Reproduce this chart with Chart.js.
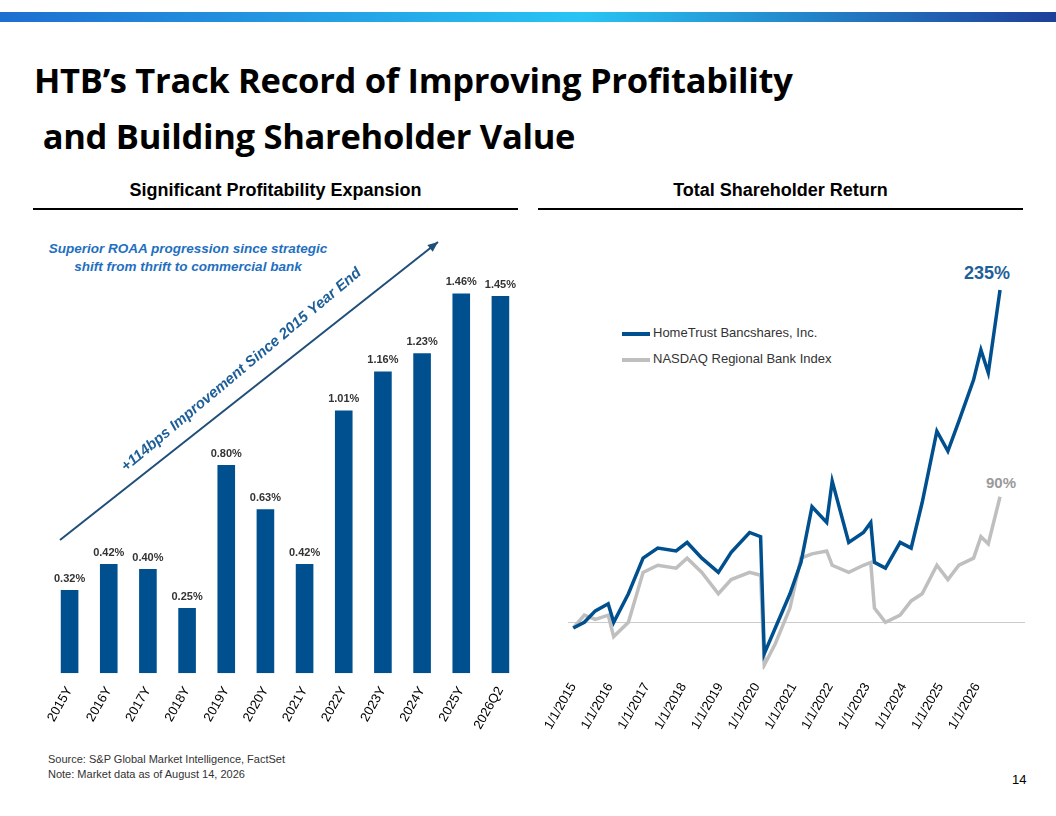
<!DOCTYPE html>
<html><head><meta charset="utf-8">
<script src="https://cdn.jsdelivr.net/npm/chart.js@4"></script>
<style>
body{margin:0;width:1056px;height:816px;position:relative;background:#fff;font-family:"Liberation Sans",Arial,sans-serif;overflow:hidden}
#bar{position:absolute;left:0;top:12px;width:1056px;height:10px;background:linear-gradient(90deg,#1e6fd0,#28c4f4 55%,#1e3f9a)}
h1{position:absolute;left:34px;top:52px;margin:0;font-family:"Open Sans",sans-serif;font-weight:700;font-size:34.5px;line-height:56px;color:#000;letter-spacing:-0.3px}
.hd{position:absolute;top:180px;font-weight:700;font-size:18px;text-align:center;width:485px}
.rule{position:absolute;top:208px;height:2px;background:#000;width:485px}
#c1{position:absolute;left:30px;top:230px}
#c2{position:absolute;left:545px;top:230px}
.t{position:absolute;font-size:13px}
.lg{position:absolute;left:622px;font-size:13px;color:#333}
.lg i{display:inline-block;width:28px;height:4px;vertical-align:middle;margin-right:3px}
</style></head><body>
<div id="bar"></div>
<h1>HTB’s Track Record of Improving Profitability<br>&nbsp;and Building Shareholder Value</h1>
<div class="hd" style="left:33px">Significant Profitability Expansion</div>
<div class="hd" style="left:538px">Total Shareholder Return</div>
<div class="rule" style="left:33px"></div>
<div class="rule" style="left:538px"></div>
<div class="t" style="left:38px;top:240px;width:300px;text-align:center;color:#1f6fbf;font-weight:700;font-style:italic;font-size:13.5px;line-height:18px">Superior ROAA progression since strategic<br>shift from thrift to commercial bank</div>
<div class="lg" style="top:325px"><i style="background:#00508f"></i>HomeTrust Bancshares, Inc.</div>
<div class="lg" style="top:351px"><i style="background:#bfbfbf"></i>NASDAQ Regional Bank Index</div>
<div class="t" style="left:964px;top:263px;color:#1f5f99;font-weight:700;font-size:18px">235%</div>
<div class="t" style="left:986px;top:474px;color:#9a9a9a;font-weight:700;font-size:15px">90%</div>
<div class="t" style="left:48px;top:752px;font-size:11px;color:#333;line-height:15px">Source: S&amp;P Global Market Intelligence, FactSet<br>Note: Market data as of August 14, 2026</div>
<div class="t" style="left:1012px;top:772px;font-size:13px">14</div>
<canvas id="c1" width="490" height="505"></canvas>
<canvas id="c2" width="490" height="505"></canvas>
<script>
const barLabels = ["2015Y","2016Y","2017Y","2018Y","2019Y","2020Y","2021Y","2022Y","2023Y","2024Y","2025Y","2026Q2"];
const roaa = [0.32,0.42,0.40,0.25,0.80,0.63,0.42,1.01,1.16,1.23,1.46,1.45];

const tsrDates = [2015.0,2015.3,2015.6,2015.95,2016.1,2016.5,2016.9,2017.3,2017.8,2018.1,2018.5,2018.95,2019.3,2019.8,2020.1,2020.2,2020.5,2020.9,2021.2,2021.5,2021.9,2022.05,2022.5,2022.9,2023.1,2023.2,2023.5,2023.9,2024.2,2024.5,2024.9,2025.2,2025.5,2025.9,2026.1,2026.3,2026.62];
const htb = [-4,0,8,13,0,20,45,52,50,56,45,35,49,63,60,-22,-4,20,42,81,70,99,56,63,70,42,38,56,52,84,134,120,141,170,191,175,233];
const nasdaq = [-4,5,2,5,-10,0,35,40,38,45,35,20,30,35,33,-30,-15,10,45,48,50,40,35,40,42,10,0,5,15,20,40,30,40,45,60,55,88];

const arrowPlugin = {
  id: "arrow",
  afterDraw(c) {
    const x = c.ctx;
    x.save();
    x.strokeStyle = "#1f4e79"; x.fillStyle = "#1f4e79"; x.lineWidth = 2;
    const x0 = 30, y0 = 310, x1 = 408, y1 = 12;
    x.beginPath(); x.moveTo(x0, y0); x.lineTo(x1, y1); x.stroke();
    const a = Math.atan2(y1 - y0, x1 - x0);
    x.beginPath(); x.moveTo(x1, y1);
    x.lineTo(x1 - 11 * Math.cos(a - 0.4), y1 - 11 * Math.sin(a - 0.4));
    x.lineTo(x1 - 11 * Math.cos(a + 0.4), y1 - 11 * Math.sin(a + 0.4));
    x.closePath(); x.fill();
    x.translate(96, 242); x.rotate(a - 0.03);
    x.fillStyle = "#1f5f99"; x.font = "italic bold 15px 'Liberation Sans'";
    x.fillText("+114bps Improvement Since 2015 Year End", 0, 0);
    x.restore();
    x.save();
    x.font = "bold 11px 'Liberation Sans'"; x.fillStyle = "#333"; x.textAlign = "center";
    c.getDatasetMeta(0).data.forEach((b, i) => x.fillText(roaa[i].toFixed(2) + "%", b.x, b.y - 8));
    x.restore();
  }
};

new Chart(document.getElementById("c1"), {
  type: "bar",
  plugins: [arrowPlugin],
  data: { labels: barLabels, datasets: [{ data: roaa, backgroundColor: "#00508f", barPercentage: 0.45, categoryPercentage: 1 }] },
  options: {
    responsive: false, animation: false,
    layout: { padding: { top: 40, left: 20 } },
    plugins: { legend: { display: false }, tooltip: { enabled: false } },
    scales: {
      y: { display: false, min: 0, max: 1.55 },
      x: { grid: { display: false }, border: { display: false },
           ticks: { color: "#000", font: { size: 13 }, minRotation: 60, maxRotation: 60 } }
    }
  }
});

new Chart(document.getElementById("c2"), {
  type: "line",
  data: { datasets: [
    { data: tsrDates.map((d, i) => ({ x: d, y: htb[i] })), borderColor: "#00508f", borderWidth: 3.5, pointRadius: 0, tension: 0 },
    { data: tsrDates.map((d, i) => ({ x: d, y: nasdaq[i] })), borderColor: "#bfbfbf", borderWidth: 3.5, pointRadius: 0, tension: 0 }
  ] },
  options: {
    responsive: false, animation: false,
    layout: { padding: { top: 50, right: 10 } },
    plugins: { tooltip: { enabled: false }, legend: { display: false } },
    scales: {
      y: { min: -33, max: 240, ticks: { display: false }, border: { display: false },
           grid: { color: c => c.tick.value === 0 ? "#ccc" : "transparent", drawTicks: false } },
      x: { type: "linear", min: 2014.85, max: 2027.3, grid: { display: false }, border: { display: false },
           afterBuildTicks: a => { a.ticks = [2015,2016,2017,2018,2019,2020,2021,2022,2023,2024,2025,2026].map(v => ({ value: v })); },
           ticks: { color: "#000", font: { size: 13 }, minRotation: 60, maxRotation: 60, callback: v => "1/1/" + v } }
    }
  }
});
</script>
</body></html>
